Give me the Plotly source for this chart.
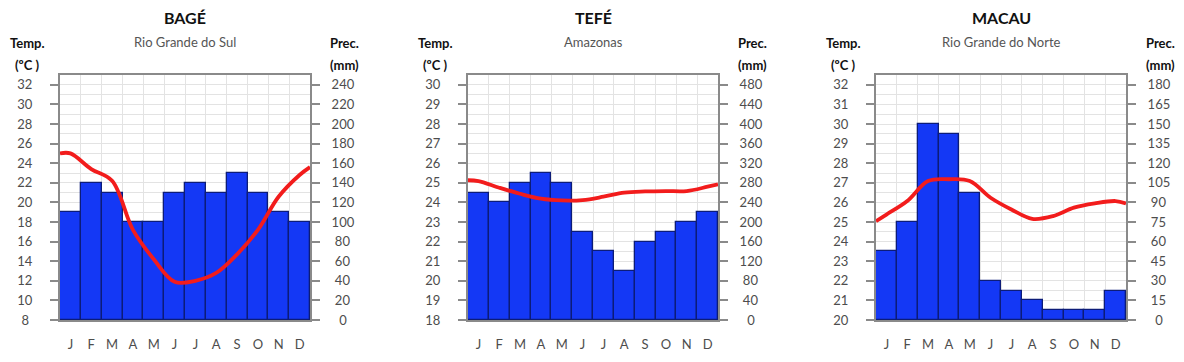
import plotly.graph_objects as go

# ---------------- data ----------------
months = ["J", "F", "M", "A", "M", "J", "J", "A", "S", "O", "N", "D"]
month_pos = list(range(1, 13))
# temperature curve read at left edge, each month centre, right edge
line_pos = [0.5] + month_pos + [12.5]

bage_prec = [110, 140, 130, 100, 100, 130, 140, 130, 150, 130, 110, 100]
bage_temp = [25.0, 25.0, 23.4, 22.2, 17.2, 14.2, 11.9, 12.0, 12.8, 14.7, 17.2, 20.6, 22.8, 23.6]

tefe_prec = [260, 240, 280, 300, 280, 180, 140, 100, 160, 180, 200, 220]
tefe_temp = [25.13, 25.09, 24.75, 24.44, 24.19, 24.1, 24.12, 24.29, 24.5, 24.56, 24.58, 24.58, 24.8, 24.92]

macau_prec = [52.5, 75, 150, 142.5, 97.5, 30, 22.5, 15, 7.5, 7.5, 7.5, 22.5]
macau_temp = [25.04, 25.38, 26.07, 27.09, 27.18, 27.09, 26.24, 25.64, 25.16, 25.3, 25.73, 25.95, 26.07, 25.95]

titles = ["BAGÉ", "TEFÉ", "MACAU"]
subtitles = ["Rio Grande do Sul", "Amazonas", "Rio Grande do Norte"]
temp_ticks = [(8, 32, 2), (18, 30, 1), (20, 32, 1)]
prec_ticks = [(0, 240, 20), (0, 480, 40), (0, 180, 15)]

# ---------------- styling ----------------
OFF = 8  # default page body margin in the browser
W, H = 1184 - OFF, 362 - OFF
FONT = "Lato"
BAR_BLUE = "#1438f5"
BAR_EDGE = "#0c1c78"
RED = "#f21c1c"
FRAME = "#8a8a8a"
GRID = "#e3e3e3"
TICKTXT = "#4d4d4d"
FIG_SP = "\u2007"   # digit-wide space
QTR_SP = "\u2005"   # ~half a digit


def right_label(v):
    s = str(v)
    if len(s) == 1:
        return FIG_SP + s
    if len(s) == 2:
        return QTR_SP + s
    return s


def left_label(v):
    s = str(v)
    return s + QTR_SP if len(s) == 1 else s


plot_px = [(60 - OFF, 310 - OFF), (468 - OFF, 718 - OFF), (876 - OFF, 1126 - OFF)]
plot_top, plot_bot = 75 - OFF, 320 - OFF

fig = go.Figure()
datasets = [(bage_prec, bage_temp), (tefe_prec, tefe_temp), (macau_prec, macau_temp)]

annotations = []
for i, ((prec, temp), (x0, x1)) in enumerate(zip(datasets, plot_px)):
    n = i + 1
    xa = "x" if n == 1 else f"x{n}"
    ya_p = f"y{2*n-1}" if n > 1 else "y"
    ya_t = f"y{2*n}"
    xkey = "xaxis" if n == 1 else f"xaxis{n}"
    ykey_p = "yaxis" if n == 1 else f"yaxis{2*n-1}"
    ykey_t = f"yaxis{2*n}"

    tmin, tmax, tstep = temp_ticks[i]
    pmin, pmax, pstep = prec_ticks[i]
    pvals = list(range(pmin, pmax + 1, pstep))
    tvals = list(range(tmin, tmax + 1, tstep))

    fig.add_trace(go.Bar(
        x=month_pos, y=prec, xaxis=xa, yaxis=ya_p, width=1.0,
        marker=dict(color=BAR_BLUE, line=dict(color=BAR_EDGE, width=1.3)),
        showlegend=False, hoverinfo="skip"))
    fig.add_trace(go.Scatter(
        x=line_pos, y=temp, xaxis=xa, yaxis=ya_t, mode="lines",
        line=dict(color=RED, width=3.8, shape="spline", smoothing=1.0),
        showlegend=False, hoverinfo="skip"))

    dom_x = [x0 / W, x1 / W]
    dom_y = [1 - plot_bot / H, 1 - plot_top / H]

    fig.layout[xkey] = dict(
        domain=dom_x, anchor=ya_p, range=[0.5, 12.5],
        tickvals=month_pos, ticktext=months, showgrid=False, zeroline=False,
        ticks="", ticklabelstandoff=11,
        tickfont=dict(family=FONT, size=13, color=TICKTXT),
        showline=True, linecolor=FRAME, linewidth=2, mirror=True,
        minor=dict(tick0=0.5, dtick=1, showgrid=True, gridcolor=GRID, gridwidth=1, ticklen=0),
        fixedrange=True, automargin=False)
    fig.layout[ykey_p] = dict(
        domain=dom_y, anchor=xa, side="right",
        range=[pmin, pmax + pstep / 2],
        tickvals=pvals, ticktext=[right_label(v) for v in pvals],
        showgrid=True, gridcolor=GRID, gridwidth=1, zeroline=False,
        minor=dict(dtick=pstep / 2, tick0=0, showgrid=True, gridcolor=GRID, gridwidth=1),
        ticks="outside", ticklen=8, tickcolor=FRAME, tickwidth=1.5,
        ticklabelstandoff=9,
        tickfont=dict(family=FONT, size=13, color=TICKTXT),
        showline=True, linecolor=FRAME, linewidth=2,
        fixedrange=True, automargin=False)
    fig.layout[ykey_t] = dict(
        overlaying=ya_p, anchor=xa, side="left",
        range=[tmin, tmax + tstep / 2],
        tickvals=tvals, ticktext=[left_label(v) for v in tvals],
        showgrid=False, zeroline=False,
        ticks="outside", ticklen=8, tickcolor=FRAME, tickwidth=1.5,
        ticklabelstandoff=15,
        tickfont=dict(family=FONT, size=13, color=TICKTXT),
        showline=True, linecolor=FRAME, linewidth=2,
        fixedrange=True, automargin=False)

    xc = (x0 + x1) / 2
    annotations += [
        dict(text=f"<b>{titles[i]}</b>", x=xc / W, y=1 - (17 - OFF) / H, font=dict(family=FONT, size=16, color="#111")),
        dict(text=subtitles[i], x=xc / W, y=1 - (42 - OFF) / H, font=dict(family=FONT, size=13, color="#555")),
        dict(text="<b>Temp.</b>", x=(x0 - 33) / W, y=1 - (43 - OFF) / H, font=dict(family=FONT, size=13, color="#111")),
        dict(text="<b>(ºC )</b>", x=(x0 - 33) / W, y=1 - (65 - OFF) / H, font=dict(family=FONT, size=13, color="#111")),
        dict(text="<b>Prec.</b>", x=(x1 + 34) / W, y=1 - (43 - OFF) / H, font=dict(family=FONT, size=13, color="#111")),
        dict(text="<b>(mm)</b>", x=(x1 + 34) / W, y=1 - (65 - OFF) / H, font=dict(family=FONT, size=13, color="#111")),
    ]

for a in annotations:
    a.update(xref="paper", yref="paper", showarrow=False, xanchor="center", yanchor="middle")

fig.update_layout(
    width=W, height=H, margin=dict(l=0, r=0, t=0, b=0),
    paper_bgcolor="white", plot_bgcolor="white",
    bargap=0, annotations=annotations,
)

fig.write_html("out.html", config={"displayModeBar": False})
